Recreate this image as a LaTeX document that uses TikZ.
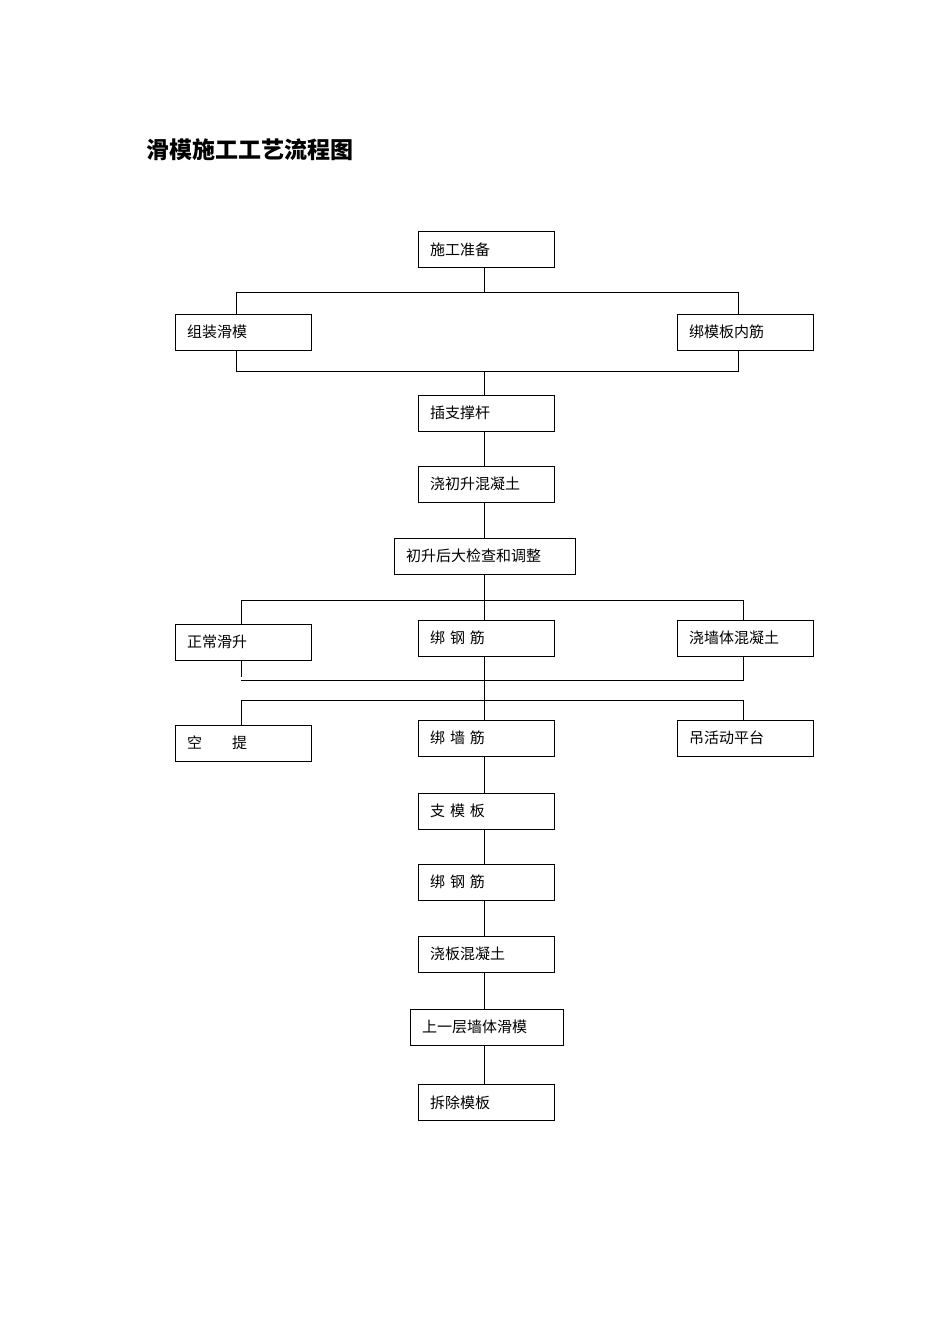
\documentclass[tikz,border=0pt]{standalone}
\usepackage{fontspec}
\newfontfamily\cjk{Noto Sans CJK SC}
\begin{document}
\begin{tikzpicture}[x=1pt,y=-1pt,
    stepbox/.style={draw,thick,minimum height=36,inner xsep=12,inner ysep=0,
      text width=#1,align=left,font=\cjk\fontsize{15}{18}\selectfont},
    stepbox/.default=112,
    link/.style={thick}]
  \useasboundingbox (0,0) rectangle (950,1344);
  % Title
  \node[anchor=west,font=\cjk\bfseries\fontsize{23}{26}\selectfont] (title) at (143,150) {滑模施工工艺流程图};

  % Boxes
  \node[stepbox] (prep) at (486,249.5) {施工准备};
  \node[stepbox] (zz) at (243,332) {组装滑模};
  \node[stepbox] (bmb) at (745,332) {绑模板内筋};
  \node[stepbox] (cz) at (486,413) {插支撑杆};
  \node[stepbox] (jcs) at (486,484) {浇初升混凝土};
  \node[stepbox=157] (jc) at (484.5,556) {初升后大检查和调整};
  \node[stepbox] (zc) at (243,642) {正常滑升};
  \node[stepbox] (bgj1) at (486,638) {绑\ 钢\ 筋};
  \node[stepbox] (jqt) at (745,638) {浇墙体混凝土};
  \node[stepbox] (kt) at (243,743) {空\qquad 提};
  \node[stepbox] (bqj) at (486,738) {绑\ 墙\ 筋};
  \node[stepbox] (dhd) at (745,738) {吊活动平台};
  \node[stepbox] (zmb) at (486,811) {支\ 模\ 板};
  \node[stepbox] (bgj2) at (486,882) {绑\ 钢\ 筋};
  \node[stepbox] (jb) at (486,954) {浇板混凝土};
  \node[stepbox=129] (sy) at (486.5,1027) {上一层墙体滑模};
  \node[stepbox] (cc) at (486,1102.5) {拆除模板};

  % Junction points
  \coordinate (a1) at (236,292); \coordinate (a2) at (738,292); \coordinate (am) at (484,292);
  \coordinate (b1) at (236,371); \coordinate (b2) at (738,371); \coordinate (bm) at (484,371);
  \coordinate (c1) at (241,600); \coordinate (c2) at (743,600); \coordinate (cm) at (484,600);
  \coordinate (d1) at (241,680); \coordinate (d2) at (743,680);
  \coordinate (e1) at (241,700); \coordinate (e2) at (743,700);

  % Connectors
  \draw[link] (prep.south -| am) -- (am);
  \draw[link] (zz.north -| a1) -- (a1) -- (a2) -- (bmb.north -| a2);
  \draw[link] (zz.south -| b1) -- (b1) -- (b2) -- (bmb.south -| b2);
  \draw[link] (bm) -- (cz.north -| bm);
  \draw[link] (cz.south -| bm) -- (jcs.north -| bm);
  \draw[link] (jcs.south -| bm) -- (jc.north -| bm);
  \draw[link] (jc.south -| cm) -- (bgj1.north -| cm);
  \draw[link] (zc.north -| c1) -- (c1) -- (c2) -- (jqt.north -| c2);
  \draw[link] (zc.south -| d1) -- ([yshift=3]d1);
  \draw[link] (d1) -- (d2) -- (jqt.south -| d2);
  \draw[link] (bgj1.south -| cm) -- (bqj.north -| cm);
  \draw[link] (kt.north -| e1) -- (e1) -- (e2) -- (dhd.north -| e2);
  \draw[link] (bqj.south -| cm) -- (zmb.north -| cm);
  \draw[link] (zmb.south -| cm) -- (bgj2.north -| cm);
  \draw[link] (bgj2.south -| cm) -- (jb.north -| cm);
  \draw[link] (jb.south -| cm) -- (sy.north -| cm);
  \draw[link] (sy.south -| cm) -- (cc.north -| cm);
\end{tikzpicture}
\end{document}
